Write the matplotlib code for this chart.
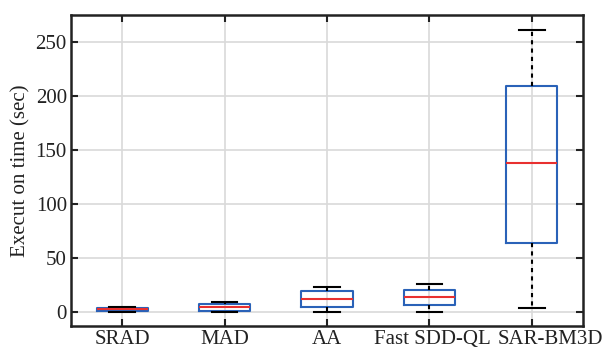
import matplotlib
matplotlib.use("Agg")
import matplotlib.pyplot as plt
from matplotlib.transforms import ScaledTranslation

categories = ["SRAD", "MAD", "AA", "Fast SDD-QL", "SAR-BM3D"]
whislo = [0.3, 0.3, 0.3, 0.3, 4.0]
q1 = [0.8, 1.2, 5.0, 6.2, 63.6]
med = [2.5, 5.0, 12.3, 14.2, 137.5]
q3 = [4.0, 7.7, 19.2, 20.4, 209.3]
whishi = [5.0, 9.5, 23.5, 26.2, 261.0]
yticks = [0, 50, 100, 150, 200, 250]

plt.rcParams['font.family'] = ['Liberation Serif', 'DejaVu Serif']

fig = plt.figure(figsize=(6.07, 3.5), dpi=100)
ax = fig.add_axes([71/607, 24/350, 512/607, 311/350])

stats = []
for i, c in enumerate(categories):
    stats.append(dict(label=c, whislo=whislo[i], q1=q1[i], med=med[i],
                      q3=q3[i], whishi=whishi[i], fliers=[]))

ax.bxp(stats, positions=range(1, len(categories) + 1), widths=0.5,
       capwidths=0.25, showfliers=False,
       boxprops=dict(color='#2a62b8', linewidth=1.5),
       medianprops=dict(color='#e8302f', linewidth=1.5),
       whiskerprops=dict(color='black', linewidth=1.5, linestyle=(0, (2, 2))),
       capprops=dict(color='black', linewidth=1.5))

ax.set_xlim(0.5, 5.5)
ax.set_ylim(-13, 275)
ax.set_yticks(yticks)
ax.set_xticks(range(1, len(categories) + 1))
ax.set_xticklabels(categories)
ax.grid(True, color='#d9d9d9', linewidth=1.2)
ax.set_axisbelow(True)
ax.tick_params(direction='in', top=True, right=True, length=5, width=1.5,
               labelsize=15, colors='#222222', pad=3)
for s in ax.spines.values():
    s.set_linewidth(1.8)
    s.set_color('#222222')
ax.set_ylabel("Execut on time (sec)", fontsize=15, color='#222222', labelpad=4)

# shift crowded labels sideways as in the reference
shifts_px = [0, 0, 0, 3, 19]
for lab, dx in zip(ax.get_xticklabels(), shifts_px):
    lab.set_transform(lab.get_transform() + ScaledTranslation(dx / 100, 0, fig.dpi_scale_trans))

fig.savefig("out.png", dpi=100)
